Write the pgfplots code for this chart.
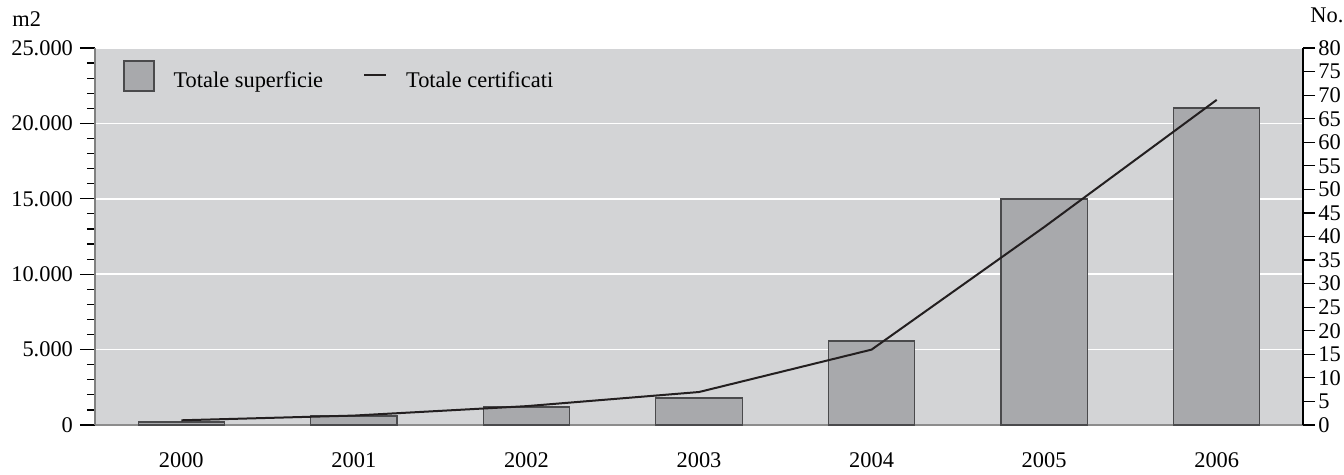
\documentclass[border=0pt]{standalone}
\usepackage{pgfplots}
\pgfplotsset{compat=1.18}
\usepackage{fontspec}
\setmainfont{Liberation Serif}

\definecolor{bgray}{HTML}{D3D4D6}
\definecolor{barfill}{HTML}{A8A9AC}
\definecolor{baredge}{HTML}{4A4A4C}
\definecolor{linecol}{HTML}{231F20}

\pgfplotsset{
    barlegend/.style={legend image code/.code={\draw[##1] (0pt,-5pt) rectangle (15pt,10pt);}},
    linelegend/.style={legend image code/.code={\draw[##1] (0pt,3pt) -- (11pt,3pt);}},
}

\begin{document}
\begin{tikzpicture}[font=\fontsize{11.2}{13}\selectfont]
% left axis: surface (bars)
\begin{axis}[
    name=main,
    scale only axis,
    width=604pt, height=188.5pt,
    xmin=-0.5, xmax=6.5,
    ymin=0, ymax=25000,
    axis background/.style={fill=bgray},
    axis x line*=bottom,
    axis y line*=left,
    x axis line style={draw=gray!90, line width=1pt},
    y axis line style={draw=gray, line width=0.6pt},
    xtick={0,...,6},
    xticklabels={2000,2001,2002,2003,2004,2005,2006},
    x tick style={draw=none},
    x tick label style={anchor=center, yshift=-10pt},
    ytick={0,5000,10000,15000,20000,25000},
    scaled y ticks=false,
    yticklabel style={/pgf/number format/fixed},
    minor y tick num=4,
    tick align=outside,
    major tick length=7.5pt,
    minor tick length=4pt,
    y tick style={black, line width=0.6pt},
    /pgf/number format/1000 sep={.},
    /pgf/number format/assume math mode=true,
    ymajorgrids,
    grid style={white, line width=0.8pt},
    legend columns=2,
    legend cell align=left,
    legend style={at={(rel axis cs:0,1)}, anchor=north west,
        xshift=11pt, yshift=-4pt,
        draw=none, fill=none, font=\fontsize{11.2}{13}\selectfont,
        /tikz/every odd column/.append style={column sep=7.5pt},
        /tikz/every even column/.append style={column sep=18pt}},
    clip=false,
]
\addplot[ybar, bar width=0.5, fill=barfill, draw=baredge, line width=0.6pt, barlegend]
    coordinates {(0,200)(1,600)(2,1190)(3,1790)(4,5570)(5,14990)(6,21020)};
\addlegendentry{Totale superficie}
\addlegendimage{linecol, line width=1pt, linelegend}
\addlegendentry{Totale certificati}
\node[anchor=west, inner sep=0pt] at ([xshift=-41.5pt, yshift=14.5pt]rel axis cs:0,1) {m2};
\end{axis}
% right axis: certificates (line)
\begin{axis}[
    scale only axis,
    width=604pt, height=188.5pt,
    xmin=-0.5, xmax=6.5,
    ymin=0, ymax=80,
    axis x line=none,
    axis y line*=right,
    y axis line style={draw=black, line width=0.6pt},
    ytick={0,5,...,80},
    tick align=outside,
    major tick length=6pt,
    y tick style={black, line width=0.6pt},
    yticklabel style={inner xsep=1.5pt},
    /pgf/number format/assume math mode=true,
    clip=false,
]
\addplot[linecol, line width=1pt]
    coordinates {(0,1)(1,2)(2,4)(3,7)(4,16)(5,42)(6,69)};
\node[anchor=west, inner sep=0pt] at ([xshift=3.5pt, yshift=16.5pt]rel axis cs:1,1) {No.};
\end{axis}
\path ([xshift=-47.5pt, yshift=-21.5pt]main.south west) rectangle ([xshift=20.5pt, yshift=24pt]main.north east);
\end{tikzpicture}
\end{document}
